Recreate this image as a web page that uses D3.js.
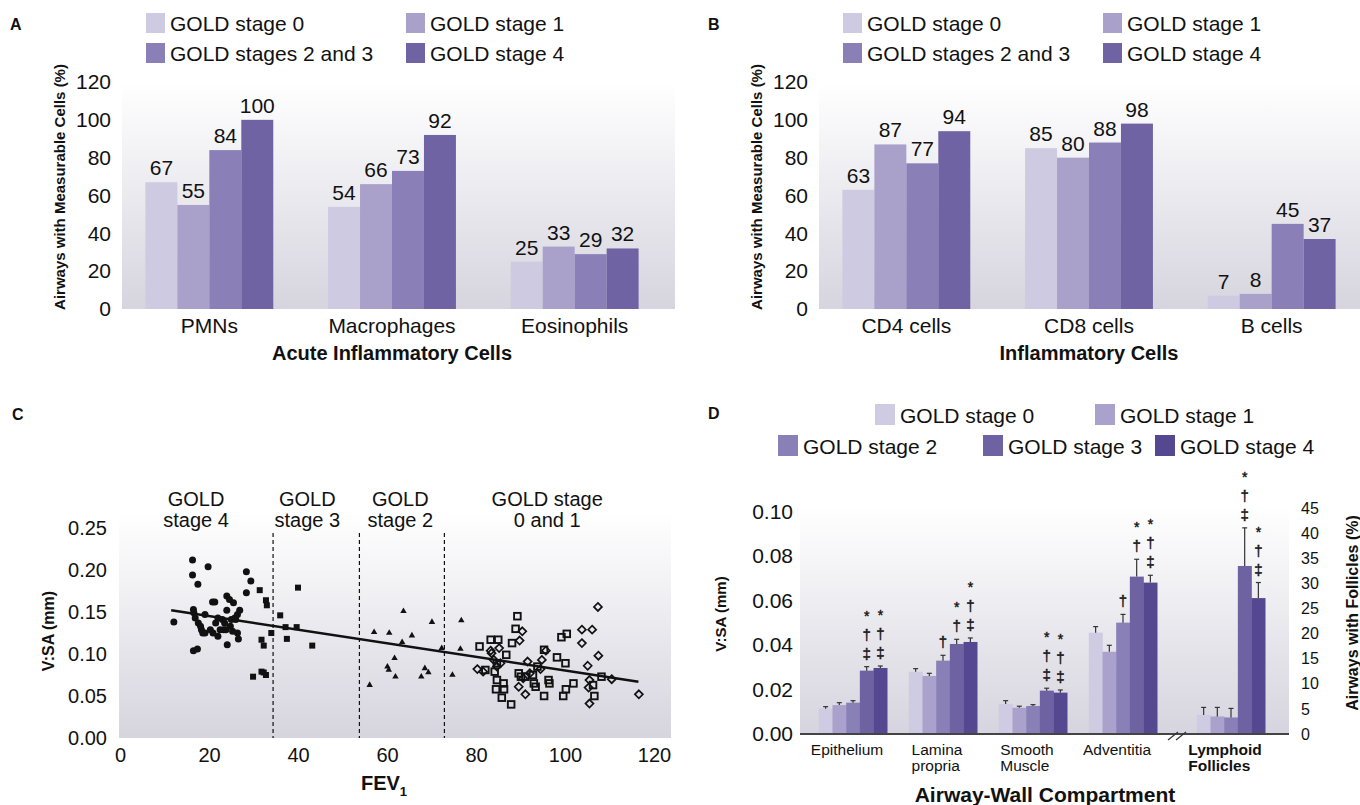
<!DOCTYPE html>
<html>
<head>
<meta charset="utf-8">
<script src="https://cdn.jsdelivr.net/npm/d3@7"></script>
<style>
  body { margin: 0; background: #fff; }
  svg text { font-family: "Liberation Sans", Arial, Helvetica, sans-serif; fill: #111; }
</style>
</head>
<body>
<div id="chart"></div>
<script>
// ---------- data: panels A and B ----------
const stagesAB = ["GOLD stage 0", "GOLD stage 1", "GOLD stages 2 and 3", "GOLD stage 4"];
const colorsAB = ["#cecae2", "#a9a1ca", "#8a7fb7", "#6f63a3"];
const yTicksAB = [0, 20, 40, 60, 80, 100, 120];

const acuteCells = ["PMNs", "Macrophages", "Eosinophils"];
const acuteValues = [[67, 55, 84, 100], [54, 66, 73, 92], [25, 33, 29, 32]];

const inflamCells = ["CD4 cells", "CD8 cells", "B cells"];
const inflamValues = [[63, 87, 77, 94], [85, 80, 88, 98], [7, 8, 45, 37]];

// ---------- data: panel C ----------
const fevTicks = [0, 20, 40, 60, 80, 100, 120];
const vsaTicksC = [0, 0.05, 0.10, 0.15, 0.20, 0.25];
const stage4Circles = [[16.3,0.212],[16.3,0.194],[19.8,0.204],[17.5,0.183],[12.1,0.138],[16.5,0.153],[16.6,0.149],
  [16.9,0.143],[17.6,0.137],[18.3,0.129],[18.6,0.125],[20.8,0.162],[21.3,0.162],[19.1,0.147],[20.3,0.129],[20.9,0.125],
  [22.0,0.121],[23.0,0.141],[23.3,0.129],[23.8,0.129],[24.1,0.111],[24.0,0.152],[24.0,0.169],[24.6,0.165],[25.5,0.161],
  [25.8,0.143],[25.3,0.127],[26.4,0.125],[26.6,0.118],[25.0,0.141],[26.0,0.141],[26.4,0.147],[26.9,0.152],[28.4,0.173],
  [28.4,0.198],[29.4,0.187],[16.5,0.104],[17.4,0.106],[22.0,0.143],[22.5,0.129],[24.8,0.133],[18.1,0.133],[19.1,0.125],
  [21.5,0.137],[23.5,0.137]];
const stage3Squares = [[31.4,0.176],[32.8,0.164],[33.0,0.158],[34.0,0.125],[31.8,0.117],[32.3,0.110],[29.9,0.073],
  [31.8,0.079],[32.3,0.078],[32.8,0.075],[36.0,0.146],[37.2,0.132],[39.7,0.132],[37.5,0.118],[40.0,0.179],[43.2,0.110]];
const stage2Triangles = [[63.7,0.151],[57.1,0.126],[60.5,0.125],[65.6,0.122],[70.1,0.138],[76.7,0.140],[72.3,0.107],
  [76.5,0.106],[63.4,0.114],[61.7,0.095],[60.1,0.085],[60.4,0.081],[61.9,0.073],[67.7,0.073],[68.5,0.083],[69.3,0.078],
  [56.1,0.063],[74.7,0.075]];
const stage01Squares = [[80.8,0.109],[83.3,0.117],[85.0,0.117],[89.3,0.145],[88.9,0.130],[88.1,0.113],[86.8,0.099],
  [84.7,0.089],[82.1,0.081],[84.2,0.079],[84.7,0.069],[86.2,0.065],[84.5,0.058],[86.3,0.058],[85.8,0.048],[87.9,0.040],
  [89.6,0.077],[90.1,0.073],[92.8,0.075],[93.8,0.085],[93.0,0.065],[93.4,0.061],[95.3,0.050],[95.3,0.105],[96.3,0.069],
  [96.5,0.065],[98.2,0.096],[100.1,0.089],[99.2,0.120],[100.4,0.124],[99.6,0.050],[100.2,0.058],[101.9,0.065],
  [106.3,0.063],[106.6,0.050],[108.2,0.073],[91.1,0.073]];
const stage01Diamonds = [[80.3,0.082],[81.6,0.079],[83.5,0.101],[85.2,0.107],[84.0,0.093],[85.5,0.089],[90.4,0.127],
  [89.8,0.116],[91.6,0.091],[90.6,0.071],[89.6,0.061],[91.1,0.052],[94.5,0.082],[94.8,0.093],[95.7,0.104],[92.1,0.077],
  [103.8,0.129],[106.1,0.129],[103.8,0.113],[107.4,0.156],[107.5,0.098],[105.1,0.086],[105.5,0.069],[105.3,0.060],
  [105.5,0.041],[110.5,0.070],[116.6,0.052],[83.3,0.104],[84.7,0.085]];
const fitLine = [[11.5, 0.152], [116.5, 0.067]];
const stageCutoffs = [34.4, 53.8, 72.9];
const regionLabels = [
  { x: 17.1, lines: ["GOLD", "stage 4"] },
  { x: 42.1, lines: ["GOLD", "stage 3"] },
  { x: 63.0, lines: ["GOLD", "stage 2"] },
  { x: 96.0, lines: ["GOLD stage", "0 and 1"] }
];

// ---------- data: panel D ----------
const stagesD = ["GOLD stage 0", "GOLD stage 1", "GOLD stage 2", "GOLD stage 3", "GOLD stage 4"];
const colorsD = ["#cfcbe3", "#aaa2cc", "#8a80b8", "#6e62a3", "#564890"];
const compartments = ["Epithelium", "Lamina propria", "Smooth Muscle", "Adventitia", "Lymphoid Follicles"];
const compartmentLines = [["Epithelium"], ["Lamina", "propria"], ["Smooth", "Muscle"], ["Adventitia"], ["Lymphoid", "Follicles"]];
const vsaTicksD = [0, 0.02, 0.04, 0.06, 0.08, 0.10];
const follicleTicks = [0, 5, 10, 15, 20, 25, 30, 35, 40, 45];
const vsaMeans = [
  [0.0114, 0.0130, 0.0141, 0.0285, 0.0297],
  [0.0280, 0.0261, 0.0330, 0.0405, 0.0414],
  [0.0135, 0.0118, 0.0126, 0.0195, 0.0186],
  [0.0456, 0.0370, 0.0501, 0.0708, 0.0681]
];
const vsaErrors = [
  [0.0009, 0.0011, 0.0009, 0.0018, 0.0009],
  [0.0014, 0.0012, 0.0024, 0.0021, 0.0018],
  [0.0015, 0.0007, 0.0006, 0.0011, 0.0012],
  [0.0027, 0.0029, 0.0037, 0.0078, 0.0033]
];
const follicleMeans = [3.8, 3.5, 3.3, 33.5, 27.1];
const follicleErrors = [1.5, 1.8, 1.8, 7.6, 3.1];
const sigMarks = [
  ["", "", "", "*†‡", "*†‡"],
  ["", "", "†", "*†", "*†‡"],
  ["", "", "", "*†‡", "*†‡"],
  ["", "", "†", "*†", "*†‡"],
  ["", "", "", "*†‡", "*†‡"]
];

// ---------- svg ----------
const svg = d3.select("#chart").append("svg").attr("width", 1360).attr("height", 805);

const grad = svg.append("defs").append("linearGradient")
  .attr("id", "bgGrad").attr("x1", 0).attr("y1", 0).attr("x2", 0).attr("y2", 1);
grad.append("stop").attr("offset", "0%").attr("stop-color", "#ffffff");
grad.append("stop").attr("offset", "100%").attr("stop-color", "#d6d4de");

function panelLetter(x, y, t) {
  svg.append("text").attr("x", x).attr("y", y).attr("font-size", 16).attr("font-weight", "bold").text(t);
}

function legend(items, colors, positions, size) {
  items.forEach((name, i) => {
    const p = positions[i];
    svg.append("rect").attr("x", p[0]).attr("y", p[1]).attr("width", size[0]).attr("height", size[1]).attr("fill", colors[i]);
    svg.append("text").attr("x", p[0] + size[0] + 5).attr("y", p[1] + size[1] - 2.5)
      .attr("font-size", 21).text(name);
  });
}

function stripAxis(g) {
  g.select(".domain").remove();
  g.selectAll(".tick line").remove();
  g.selectAll("text").style("font-family", '"Liberation Sans", Arial, Helvetica, sans-serif').attr("fill", "#111");
}

// ---------- bar panels A and B ----------
function drawBarPanel(dx, cats, values, title) {
  const g = svg.append("g").attr("transform", `translate(${dx},0)`);
  const y = d3.scaleLinear().domain([0, 120]).range([309, 82]);
  const x0 = d3.scaleBand().domain(cats).range([118, 666]).paddingInner(0.3).paddingOuter(0.15);
  const x1 = d3.scaleBand().domain(d3.range(4)).range([0, x0.bandwidth()]);

  g.append("rect").attr("x", 122).attr("y", 82).attr("width", 553).attr("height", 227).attr("fill", "url(#bgGrad)");

  const yAxis = g.append("g").attr("transform", "translate(118,0)")
    .call(d3.axisLeft(y).tickValues(yTicksAB).tickSize(0).tickPadding(7));
  stripAxis(yAxis);
  yAxis.selectAll("text").attr("font-size", 21);

  const groups = g.selectAll(".grp").data(cats).join("g")
    .attr("transform", d => `translate(${x0(d)},0)`);
  groups.selectAll("rect").data((d, i) => values[i]).join("rect")
    .attr("x", (d, j) => x1(j)).attr("width", x1.bandwidth())
    .attr("y", d => y(d)).attr("height", d => y(0) - y(d))
    .attr("fill", (d, j) => colorsAB[j]);
  groups.selectAll("text").data((d, i) => values[i]).join("text")
    .attr("x", (d, j) => x1(j) + x1.bandwidth() / 2).attr("y", d => y(d) - 7)
    .attr("text-anchor", "middle").attr("font-size", 21).text(d => d);

  const xAxis = g.append("g").attr("transform", "translate(0,309)")
    .call(d3.axisBottom(x0).tickSize(0).tickPadding(9));
  stripAxis(xAxis);
  xAxis.selectAll("text").attr("font-size", 21);

  g.append("text").attr("x", 392).attr("y", 360).attr("text-anchor", "middle")
    .attr("font-size", 20).attr("font-weight", "bold").text(title);
  g.append("text").attr("transform", "translate(65,187) rotate(-90)").attr("text-anchor", "middle")
    .attr("font-size", 15).attr("font-weight", "bold").text("Airways with Measurable Cells (%)");
}

drawBarPanel(0, acuteCells, acuteValues, "Acute Inflammatory Cells");
drawBarPanel(697, inflamCells, inflamValues, "Inflammatory Cells");
panelLetter(10, 30, "A");
panelLetter(708, 30, "B");
legend(stagesAB, colorsAB, [[146, 13], [406, 13], [146, 43], [406, 43]], [19, 20]);
legend(stagesAB, colorsAB, [[843, 13], [1103, 13], [843, 43], [1103, 43]], [19, 20]);

// ---------- panel C ----------
(function () {
  const x = d3.scaleLinear().domain([0, 120]).range([120, 654]);
  const y = d3.scaleLinear().domain([0, 0.25]).range([738, 528]);
  const g = svg.append("g");
  panelLetter(12, 420, "C");

  g.append("rect").attr("x", 119).attr("y", 513).attr("width", 552).attr("height", 225).attr("fill", "url(#bgGrad)");

  const yAxis = g.append("g").attr("transform", "translate(118,0)")
    .call(d3.axisLeft(y).tickValues(vsaTicksC).tickFormat(d3.format(".2f")).tickSize(0).tickPadding(11));
  stripAxis(yAxis);
  yAxis.selectAll("text").attr("font-size", 20);

  const xAxis = g.append("g").attr("transform", "translate(0,738)")
    .call(d3.axisBottom(x).tickValues(fevTicks).tickSize(0).tickPadding(10));
  stripAxis(xAxis);
  xAxis.selectAll("text").attr("font-size", 20);

  // stage boundaries
  g.selectAll(".cut").data(stageCutoffs).join("line")
    .attr("x1", d => x(d)).attr("x2", d => x(d)).attr("y1", 533).attr("y2", 738)
    .attr("stroke", "#111").attr("stroke-width", 1.2).attr("stroke-dasharray", "4,3");

  regionLabels.forEach(r => {
    r.lines.forEach((ln, k) => {
      g.append("text").attr("x", x(r.x)).attr("y", 506 + k * 21).attr("text-anchor", "middle")
        .attr("font-size", 20).text(ln);
    });
  });

  // regression line
  g.append("path").datum(fitLine)
    .attr("d", d3.line().x(d => x(d[0])).y(d => y(d[1])))
    .attr("stroke", "#111").attr("stroke-width", 2.5).attr("fill", "none");

  g.selectAll(".c4").data(stage4Circles).join("circle")
    .attr("cx", d => x(d[0])).attr("cy", d => y(d[1])).attr("r", 3.5).attr("fill", "#111");
  g.selectAll(".s3").data(stage3Squares).join("rect")
    .attr("x", d => x(d[0]) - 3).attr("y", d => y(d[1]) - 3).attr("width", 6).attr("height", 6).attr("fill", "#111");
  g.selectAll(".t2").data(stage2Triangles).join("path")
    .attr("d", d3.symbol().type(d3.symbolTriangle).size(18))
    .attr("transform", d => `translate(${x(d[0])},${y(d[1])})`).attr("fill", "#111");
  g.selectAll(".s01").data(stage01Squares).join("rect")
    .attr("x", d => x(d[0]) - 3.3).attr("y", d => y(d[1]) - 3.3).attr("width", 6.6).attr("height", 6.6)
    .attr("fill", "none").attr("stroke", "#111").attr("stroke-width", 1.9);
  g.selectAll(".d01").data(stage01Diamonds).join("path")
    .attr("d", "M0,-4L4,0L0,4L-4,0Z")
    .attr("transform", d => `translate(${x(d[0])},${y(d[1])})`)
    .attr("fill", "none").attr("stroke", "#111").attr("stroke-width", 1.7);

  const t = g.append("text").attr("x", 384).attr("y", 790).attr("text-anchor", "middle")
    .attr("font-size", 20).attr("font-weight", "bold");
  t.append("tspan").text("FEV");
  t.append("tspan").attr("font-size", 13).attr("dy", 6).text("1");
  g.append("text").attr("transform", "translate(54,631) rotate(-90)").attr("text-anchor", "middle")
    .attr("font-size", 16).attr("font-weight", "bold").text("V:SA (mm)");
})();

// ---------- panel D ----------
(function () {
  const yL = d3.scaleLinear().domain([0, 0.1]).range([734, 511.7]);
  const yR = d3.scaleLinear().domain([0, 45]).range([734, 508.3]);
  const x0 = d3.scaleBand().domain(compartments).range([808, 1258]).paddingInner(0.24).paddingOuter(0.12);
  const x1 = d3.scaleBand().domain(d3.range(5)).range([0, x0.bandwidth()]);
  const breakShift = 18;
  const gx = (c, i) => x0(c) + (i === 4 ? breakShift : 0);
  const g = svg.append("g");

  panelLetter(708, 419, "D");
  legend(stagesD, colorsD, [[875, 404], [1095, 404], [778, 435], [983, 435], [1155, 435]], [20, 21]);

  g.append("rect").attr("x", 800).attr("y", 506).attr("width", 489).attr("height", 228).attr("fill", "url(#bgGrad)");

  const yAxisL = g.append("g").attr("transform", "translate(800,0)")
    .call(d3.axisLeft(yL).tickValues(vsaTicksD).tickFormat(d3.format(".2f")).tickSize(0).tickPadding(7));
  stripAxis(yAxisL);
  yAxisL.selectAll("text").attr("font-size", 21);

  const yAxisR = g.append("g").attr("transform", "translate(1289,0)")
    .call(d3.axisRight(yR).tickValues(follicleTicks).tickSize(0).tickPadding(12));
  stripAxis(yAxisR);
  yAxisR.selectAll("text").attr("font-size", 16);

  compartments.forEach((c, ci) => {
    const isFoll = ci === 4;
    const means = isFoll ? follicleMeans : vsaMeans[ci];
    const errs = isFoll ? follicleErrors : vsaErrors[ci];
    const ys = isFoll ? yR : yL;
    const cg = g.append("g").attr("transform", `translate(${gx(c, ci)},0)`);
    means.forEach((m, j) => {
      const bx = x1(j), bw = x1.bandwidth(), cx = bx + bw / 2;
      cg.append("rect").attr("x", bx).attr("width", bw + 0.3).attr("y", ys(m)).attr("height", ys(0) - ys(m))
        .attr("fill", colorsD[j]);
      const top = ys(m + errs[j]);
      cg.append("line").attr("x1", cx).attr("x2", cx).attr("y1", ys(m)).attr("y2", top)
        .attr("stroke", "#333").attr("stroke-width", 1.2);
      cg.append("line").attr("x1", cx - 2.5).attr("x2", cx + 2.5).attr("y1", top).attr("y2", top)
        .attr("stroke", "#333").attr("stroke-width", 1.2);
      // significance marks stacked above the error cap
      const marks = Array.from(sigMarks[ci][j]);
      if (marks.length) {
        const st = cg.append("text").attr("text-anchor", "middle").attr("font-size", 15)
          .attr("stroke", "#111").attr("stroke-width", 0.4).style("opacity", 0.99);
        marks.forEach((s, k) => {
          const fromBottom = marks.length - 1 - k;
          st.append("tspan").attr("x", cx)
            .attr("y", top - 8 - fromBottom * 19)
            .attr("font-size", s === "*" ? 14 : 15).text(s);
        });
      }
    });
    // category label, lines left-aligned as a block
    const lab = g.append("g");
    const lines = compartmentLines[ci].map((ln, k) => lab.append("text")
      .attr("y", 755 + k * 16).attr("font-size", 15.5).attr("font-weight", isFoll ? "bold" : "normal").text(ln));
    const w = d3.max(lines, t => t.node().getComputedTextLength());
    const cx = gx(c, ci) + x0.bandwidth() / 2 - 6;
    lines.forEach(t => t.attr("x", cx - w / 2));
  });

  // baseline with axis break
  g.append("line").attr("x1", 800).attr("x2", 1289).attr("y1", 734).attr("y2", 734)
    .attr("stroke", "#444").attr("stroke-width", 2);
  const bxMid = (x0("Adventitia") + x0.bandwidth() + x0("Lymphoid Follicles") + breakShift) / 2;
  [-4, 4].forEach(o => {
    g.append("line").attr("x1", bxMid + o - 5).attr("x2", bxMid + o + 5).attr("y1", 740).attr("y2", 732)
      .attr("stroke", "#333").attr("stroke-width", 1.2);
  });

  g.append("text").attr("x", 1045).attr("y", 802).attr("text-anchor", "middle")
    .attr("font-size", 21).attr("font-weight", "bold").text("Airway-Wall Compartment");
  g.append("text").attr("transform", "translate(726,614) rotate(-90)").attr("text-anchor", "middle")
    .attr("font-size", 15).attr("font-weight", "bold").text("V:SA (mm)");
  g.append("text").attr("transform", "translate(1358,613) rotate(-90)").attr("text-anchor", "middle")
    .attr("font-size", 16).attr("font-weight", "bold").text("Airways with Follicles (%)");
})();
</script>
</body>
</html>
